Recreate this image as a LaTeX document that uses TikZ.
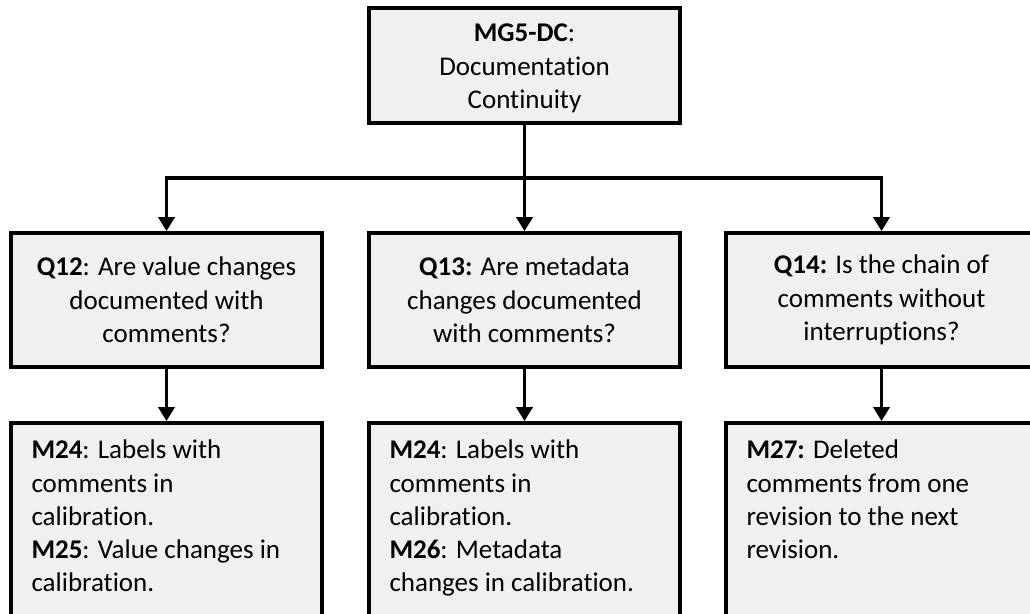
\documentclass[tikz,border=0pt]{standalone}
\usepackage{fontspec}
\setmainfont[Ligatures=NoCommon]{Carlito}
\usetikzlibrary{arrows.meta}
\begin{document}
\begin{tikzpicture}[x=1pt,y=-1pt,
  box/.style={draw=black, line width=3.7pt, fill=boxgray, inner sep=0pt,
    font=\fontsize{27}{33.3}\selectfont},
  headbox/.style={box, minimum width=311pt, minimum height=115pt},
  qbox/.style={box, minimum width=311pt, minimum height=134pt, align=center},
  mbox/.style={box, minimum width=311pt, minimum height=230pt},
  arr/.style={line width=3.7pt, -{Triangle[width=16pt,length=14pt]}},
  link/.style={line width=3.7pt}]
\definecolor{boxgray}{HTML}{F0F0F0}
\useasboundingbox (0,0) rectangle (1030,613);
\clip (0,0) rectangle (1030,613);

% top node
\node[headbox] (mg) at (524.5,65.5)
  {\parbox[c][108pt][c]{300pt}{\centering\vspace*{6pt}\textbf{MG5-DC}:\\Documentation\\Continuity}};

% question row
\node[qbox] (q12) at (166.5,300) {\textbf{Q12}: Are value changes\\documented with\\comments?};
\node[qbox] (q13) at (524.5,300) {\textbf{Q13:} Are metadata\\changes documented\\with comments?};
\node[qbox] (q14) at (881.5,300) {\textbf{Q14:} Is the chain of\\comments without\\interruptions?};

% measure row
\node[mbox] (m1) at (166.5,538)
  {\parbox[t][196pt][t]{270pt}{\raggedright\textbf{M24}: Labels with\\comments in\\calibration.\\\textbf{M25}: Value changes in\\calibration.}};
\node[mbox] (m2) at (524.5,538)
  {\parbox[t][196pt][t]{270pt}{\raggedright\textbf{M24}: Labels with\\comments in\\calibration.\\\textbf{M26}: Metadata\\changes in calibration.}};
\node[mbox] (m3) at (881.5,538)
  {\parbox[t][196pt][t]{270pt}{\raggedright\textbf{M27:} Deleted\\comments from one\\revision to the next\\revision.}};

% connectors
\coordinate (bus) at (524.5,178);
\draw[link] (mg.south) -- (bus);
\draw[arr] (bus) -- (q13.north);
\draw[arr] (bus) -| (q12.north);
\draw[arr] (bus) -| (q14.north);
\draw[arr] (q12.south) -- (m1.north);
\draw[arr] (q13.south) -- (m2.north);
\draw[arr] (q14.south) -- (m3.north);
\end{tikzpicture}
\end{document}
